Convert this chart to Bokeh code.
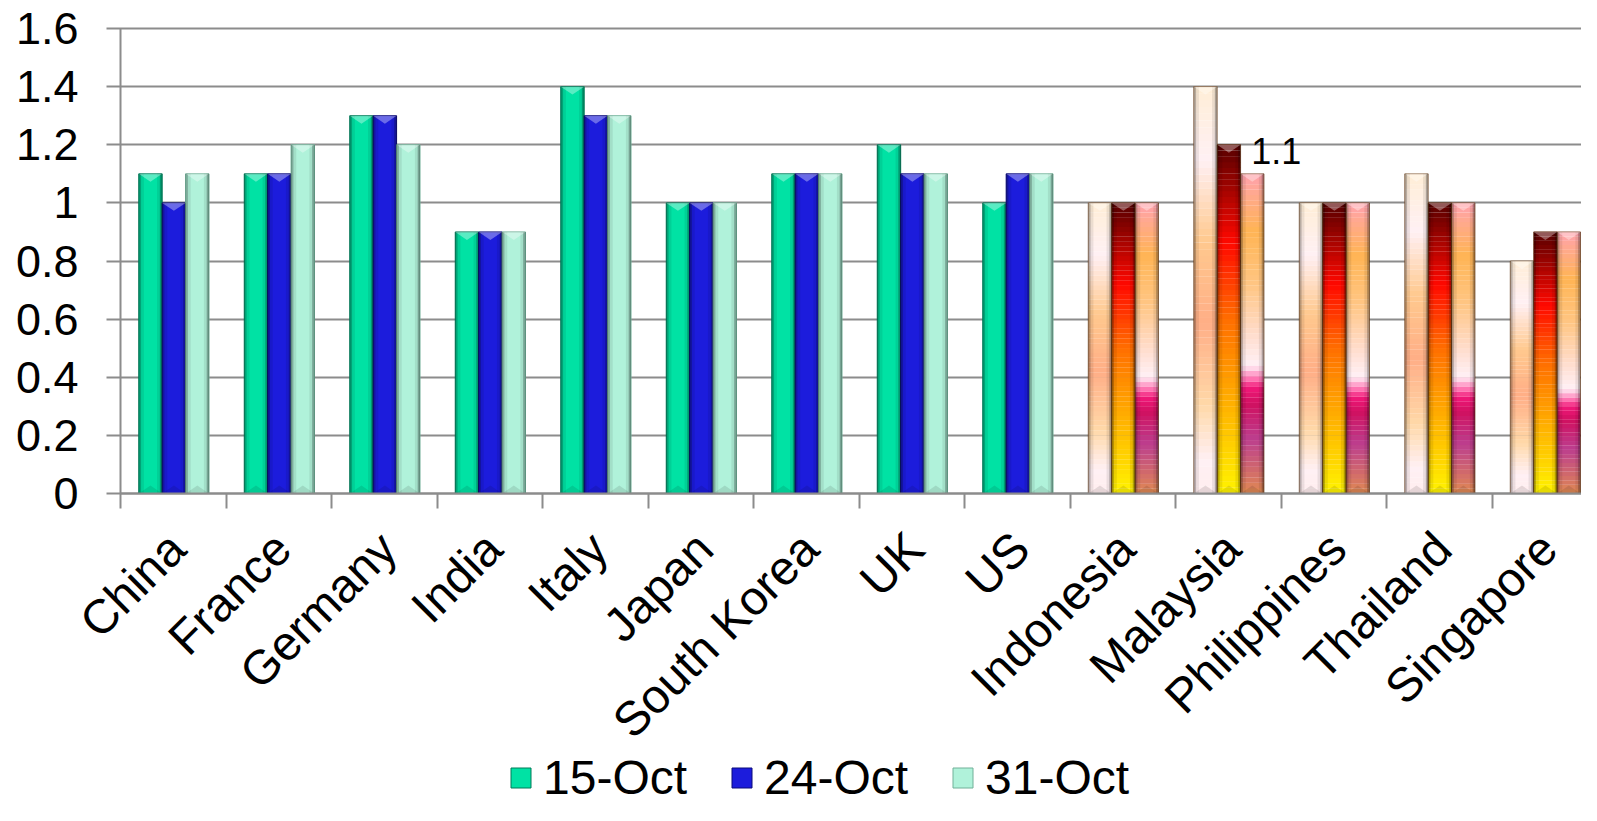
import math
from bokeh.plotting import figure
from bokeh.models import ColumnDataSource, Range1d, FixedTicker, Legend, LegendItem
from bokeh.embed import file_html
from bokeh.resources import INLINE
from bokeh.core.properties import value

# ---------------- data ----------------
categories = ["China", "France", "Germany", "India", "Italy", "Japan", "South Korea",
              "UK", "US", "Indonesia", "Malaysia", "Philippines", "Thailand", "Singapore"]
series_names = ["15-Oct", "24-Oct", "31-Oct"]
oct15 = [1.1, 1.1, 1.3, 0.9, 1.4, 1.0, 1.1, 1.2, 1.0, 1.0, 1.4, 1.0, 1.1, 0.8]
oct24 = [1.0, 1.1, 1.3, 0.9, 1.3, 1.0, 1.1, 1.1, 1.1, 1.0, 1.2, 1.0, 1.0, 0.9]
oct31 = [1.1, 1.2, 1.2, 0.9, 1.3, 1.0, 1.1, 1.1, 1.1, 1.0, 1.1, 1.0, 1.0, 0.9]
highlight = ["Indonesia", "Malaysia", "Philippines", "Thailand", "Singapore"]
y_ticks = [0, 0.2, 0.4, 0.6, 0.8, 1, 1.2, 1.4, 1.6]
y_tick_labels = ["0", "0.2", "0.4", "0.6", "0.8", "1", "1.2", "1.4", "1.6"]
note_text = "1.1"
note_category = "Malaysia"

# ---------------- layout / style ----------------
W, H = 1581, 805
LEFT_PX, CAT_PX = 120, 105.5       # pixel column of the y axis, width of one category
TOP_PX, ZERO_PX = 28, 493          # pixel rows of y=1.6 and y=0
Y_TOP = 1.6
PPU = (ZERO_PX - TOP_PX) / Y_TOP
X_START, X_END = -LEFT_PX / CAT_PX, (W - LEFT_PX) / CAT_PX
Y_START, Y_END = -(H - ZERO_PX) / PPU, Y_TOP + TOP_PX / PPU

FONT = "Liberation Sans"
GRAY = "#8c8c8c"
solid_fill = ["#00E2A4", "#1C1CDC", "#B0F2DA"]
solid_line = ["#007a58", "#0a0a7a", "#70b098"]
grad_stops = [
    [(0.0, "#FFEED6"), (0.18, "#FFF0F4"), (0.38, "#FFC98E"), (0.58, "#FFAE86"),
     (0.78, "#FFD8A8"), (0.92, "#FFF0F4"), (1.0, "#FFEDEE")],
    [(0.0, "#560000"), (0.28, "#FF0800"), (0.5, "#FF6E00"), (0.72, "#FFAA00"),
     (1.0, "#FFF400")],
    [(0.0, "#FFA2AE"), (0.18, "#FFB454"), (0.35, "#FFC684"), (0.5, "#FFDCCB"),
     (0.6, "#FFF0F6"), (0.64, "#FF78B4"), (0.67, "#F01878"), (0.72, "#D01060"),
     (0.83, "#BC3E8E"), (1.0, "#E08A52")],
]
BAR_W = 0.222
OFFSETS = [-0.222, 0.0, 0.222]
SHIFT = 0.006
LABEL_SHIFT = 0.035
N_SLICES = 60
TRI = 0.0275


def hex2rgb(h):
    h = h.lstrip("#")
    return tuple(int(h[i:i + 2], 16) for i in (0, 2, 4))


def grad_color(stops, f):
    for (f0, c0), (f1, c1) in zip(stops[:-1], stops[1:]):
        if f0 <= f <= f1:
            t = 0 if f1 == f0 else (f - f0) / (f1 - f0)
            a, b = hex2rgb(c0), hex2rgb(c1)
            return "#%02x%02x%02x" % tuple(int(round(a[i] + (b[i] - a[i]) * t)) for i in range(3))
    return stops[-1][1]


p = figure(width=W, height=H, output_backend="svg", toolbar_location=None,
           x_range=Range1d(X_START, X_END), y_range=Range1d(Y_START, Y_END),
           min_border_left=0, min_border_right=0, min_border_top=0, min_border_bottom=0)
p.outline_line_color = None
p.background_fill_color = "white"
p.border_fill_color = "white"

series = [oct15, oct24, oct31]
legend_items = []

shade_strips = [(0.0, 0.1, 0.28), (0.1, 0.22, 0.08), (0.78, 0.9, 0.08), (0.9, 1.0, 0.32)]
sh = dict(left=[], right=[], top=[], bottom=[], alpha=[])
tri_top = dict(xs=[], ys=[])
tri_bot = dict(xs=[], ys=[])
grad = dict(left=[], right=[], top=[], bottom=[], color=[])
gout = dict(left=[], right=[], top=[], bottom=[])

for s, vals in enumerate(series):
    solid = dict(x=[], top=[])
    for i, (cat, v) in enumerate(zip(categories, vals)):
        xc = i + 0.5 + OFFSETS[s] + SHIFT
        l, r = xc - BAR_W / 2, xc + BAR_W / 2
        if cat in highlight:
            for k in range(N_SLICES):
                b = v * k / N_SLICES
                t = v * (k + 1) / N_SLICES
                f = 1 - (k + 0.5) / N_SLICES
                grad["left"].append(l); grad["right"].append(r)
                grad["bottom"].append(b); grad["top"].append(t + 0.0005)
                grad["color"].append(grad_color(grad_stops[s], f))
            gout["left"].append(l); gout["right"].append(r)
            gout["bottom"].append(0); gout["top"].append(v)
        else:
            solid["x"].append(xc); solid["top"].append(v)
        for a0, a1, al in shade_strips:
            sh["left"].append(l + (r - l) * a0); sh["right"].append(l + (r - l) * a1)
            sh["bottom"].append(0); sh["top"].append(v); sh["alpha"].append(al)
        tri_top["xs"].append([l, r, xc]); tri_top["ys"].append([v, v, v - TRI])
        tri_bot["xs"].append([l, r, xc]); tri_bot["ys"].append([0, 0, TRI])
    r_solid = p.vbar(x="x", top="top", bottom=0, width=BAR_W, source=ColumnDataSource(solid),
                     fill_color=solid_fill[s], line_color=solid_line[s], line_width=1)
    legend_items.append(LegendItem(label=series_names[s], renderers=[r_solid]))

p.quad(left="left", right="right", top="top", bottom="bottom", fill_color="color",
       line_color=None, source=ColumnDataSource(grad))
p.quad(left="left", right="right", top="top", bottom="bottom", fill_color=None,
       line_color="#5a2a00", line_alpha=0.6, line_width=1, source=ColumnDataSource(gout))
p.quad(left="left", right="right", top="top", bottom="bottom", fill_color="black",
       fill_alpha="alpha", line_color=None, source=ColumnDataSource(sh))
p.patches(xs="xs", ys="ys", fill_color="white", fill_alpha=0.35, line_color=None,
          source=ColumnDataSource(tri_top))
p.patches(xs="xs", ys="ys", fill_color="black", fill_alpha=0.1, line_color=None,
          source=ColumnDataSource(tri_bot))

# annotation
ni = categories.index(note_category)
p.text(x=[ni + 0.5 + 0.455], y=[oct24[ni] - 0.022], text=[note_text],
       text_font=value(FONT), text_font_size="36px", text_color="black",
       text_align="center", text_baseline="alphabetic")

# x axis, drawn at y = 0
xt = [i + 0.5 + LABEL_SHIFT for i in range(len(categories))]
p.xaxis.fixed_location = 0
p.xaxis.bounds = (0, len(categories))
p.xaxis.ticker = FixedTicker(ticks=xt, minor_ticks=list(range(len(categories) + 1)))
p.xaxis.major_label_overrides = {t: c for t, c in zip(xt, categories)}
p.xaxis.major_label_orientation = math.pi / 4
p.xaxis.major_tick_line_color = None
p.xaxis.major_tick_out = 0
p.xaxis.major_tick_in = 0
p.xaxis.minor_tick_out = 15
p.xaxis.minor_tick_in = 0
p.xaxis.minor_tick_line_color = GRAY
p.xaxis.minor_tick_line_width = 2
p.xaxis.axis_line_color = GRAY
p.xaxis.axis_line_width = 2
p.xaxis.major_label_text_font = FONT
p.xaxis.major_label_text_font_size = "48px"
p.xaxis.major_label_text_color = "black"
p.xaxis.major_label_standoff = 32
p.xgrid.visible = False

# y axis, drawn at x = 0; its long inward ticks form the horizontal gridlines
p.yaxis.fixed_location = 0
p.yaxis.level = "underlay"
p.yaxis.bounds = (0, Y_TOP)
p.yaxis.ticker = FixedTicker(ticks=y_ticks)
p.yaxis.major_label_overrides = dict(zip(y_ticks, y_tick_labels))
p.yaxis.major_tick_out = 14
p.yaxis.major_tick_in = W - LEFT_PX
p.yaxis.major_tick_line_color = GRAY
p.yaxis.major_tick_line_width = 2
p.yaxis.minor_tick_line_color = None
p.yaxis.axis_line_color = GRAY
p.yaxis.axis_line_width = 2
p.yaxis.major_label_text_font = FONT
p.yaxis.major_label_text_font_size = "45px"
p.yaxis.major_label_text_color = "black"
p.yaxis.major_label_standoff = 28
p.ygrid.visible = False

legend = Legend(items=legend_items, orientation="horizontal", location=(LEFT_PX + 388, 0),
                glyph_width=25, glyph_height=25, label_text_font=FONT,
                label_text_font_size="48px", label_text_color="black",
                spacing=42, label_standoff=10, padding=0, margin=0,
                border_line_color=None, background_fill_alpha=0)
p.add_layout(legend)

open("out.html", "w").write(file_html(p, INLINE))
